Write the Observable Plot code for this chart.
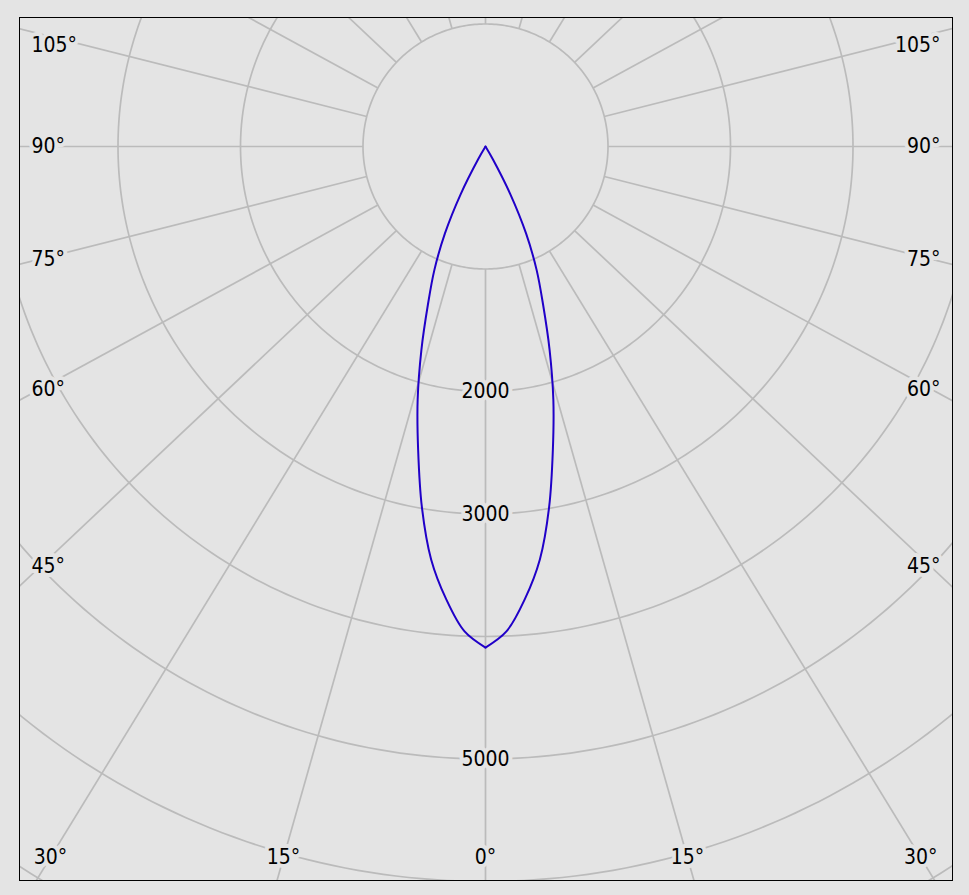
<!DOCTYPE html>
<html>
<head>
<meta charset="utf-8">
<script src="https://cdn.jsdelivr.net/npm/d3@7"></script>
<script src="https://cdn.jsdelivr.net/npm/@observablehq/plot@0.6"></script>
<style>
  html, body { margin: 0; padding: 0; background: #e4e4e4; }
  #chart svg text { font-stretch: condensed; }
</style>
</head>
<body>
<div id="chart"></div>
<script>
// ---- data ----
// luminous intensity (cd) against angle from nadir (degrees), symmetric beam
const angles    = [0, 2.5, 5, 7.5, 10, 12.5, 15, 17.5, 20, 22.5, 25, 27.5, 30, 32.5];
const intensity = [4090, 3960, 3705, 3400, 2990, 2540, 2140, 1740, 1375, 1090, 785, 440, 120, 0];
// grid
const ringValues   = [1000, 2000, 3000, 4000, 5000, 6000, 7000];
const ringLabels   = [2000, 3000, 5000];
const spokeAngles  = [0, 15, 30, 45, 60, 75, 90, 105, 120, 135, 150, 165, 180, 195, 210, 225, 240, 255, 270, 285, 300, 315, 330, 345];
const sideLabels   = [45, 60, 75, 90, 105];
const bottomLabels = [30, 15, 0];

// ---- layout ----
const W = 969, H = 895;
const fr = {left: 19, top: 17, right: 952, bottom: 880};
const cx = 485, cy = 146, k = 0.1225;   // centre (px) and px per cd
const stretch = 1.06;                    // horizontal spread of the spokes
const bg = "#e4e4e4", gridColor = "#bbbbbb", curveColor = "#2000c8";
const toX = px => (px - cx) / k;
const toY = py => (cy - py) / k;
const rad = d => d * Math.PI / 180;

// curve: left half and its mirror on the right
const curve = [-1, 1].flatMap(side => angles.map((a, i) => ({
  side,
  x: side * intensity[i] * Math.sin(rad(a)),
  y: -intensity[i] * Math.cos(rad(a))
})));

// rings
const ringPts = ringValues.flatMap(r => d3.range(0, 361, 1).map(t => ({r, x: r * Math.sin(rad(t)), y: r * Math.cos(rad(t))})));

// spokes
const spokes = spokeAngles.map(t => {
  const ux = stretch * Math.sin(rad(t)), uy = -Math.cos(rad(t));
  const n = Math.hypot(ux, uy);
  return {x1: 1000 * ux / n, y1: 1000 * uy / n, x2: 9000 * ux / n, y2: 9000 * uy / n};
});

// angle labels on the sides
const sideRows = sideLabels.flatMap(t => {
  let py = cy + 445 * Math.cos(rad(t)) / (stretch * Math.sin(rad(t)));
  py = Math.max(py, 45);
  return [
    {x: toX(31), y: toY(py), text: t + "°", anchor: "start"},
    {x: toX(940), y: toY(py), text: t + "°", anchor: "end"}
  ];
});
const bottomRows = bottomLabels.flatMap(t => {
  const py = 857;
  const off = (py - cy) * stretch * Math.tan(rad(t));
  const rows = [{x: toX(cx - off), y: toY(py), text: t + "°"}];
  if (t !== 0) rows.push({x: toX(cx + off), y: toY(py), text: t + "°"});
  return rows;
});
const ringRows = ringLabels.map(r => ({x: 0, y: -r, text: String(r)}));

const font = "'DejaVu Sans Condensed', 'DejaVu Sans', sans-serif";
const textOpts = {fill: "black", stroke: bg, strokeWidth: 8, paintOrder: "stroke", fontSize: 21, fontFamily: font};

const chart = Plot.plot({
  width: W, height: H,
  marginLeft: fr.left, marginTop: fr.top, marginRight: W - fr.right, marginBottom: H - fr.bottom,
  style: {background: bg},
  x: {domain: [toX(fr.left), toX(fr.right)], axis: null},
  y: {domain: [toY(fr.bottom), toY(fr.top)], axis: null},
  marks: [
    Plot.line(ringPts, {x: "x", y: "y", z: "r", stroke: gridColor, strokeWidth: 1.7, clip: true}),
    Plot.link(spokes, {x1: "x1", y1: "y1", x2: "x2", y2: "y2", stroke: gridColor, strokeWidth: 1.7, clip: true}),
    Plot.line(curve, {x: "x", y: "y", z: "side", stroke: curveColor, strokeWidth: 2, curve: "catmull-rom", clip: true}),
    Plot.text(ringRows, {x: "x", y: "y", text: "text", ...textOpts}),
    Plot.text(sideRows.filter(d => d.anchor === "start"), {x: "x", y: "y", text: "text", textAnchor: "start", ...textOpts}),
    Plot.text(sideRows.filter(d => d.anchor === "end"), {x: "x", y: "y", text: "text", textAnchor: "end", ...textOpts}),
    Plot.text(bottomRows, {x: "x", y: "y", text: "text", ...textOpts}),
    Plot.frame({stroke: "black", strokeWidth: 1})
  ]
});
document.getElementById("chart").appendChild(chart);
</script>
</body>
</html>
